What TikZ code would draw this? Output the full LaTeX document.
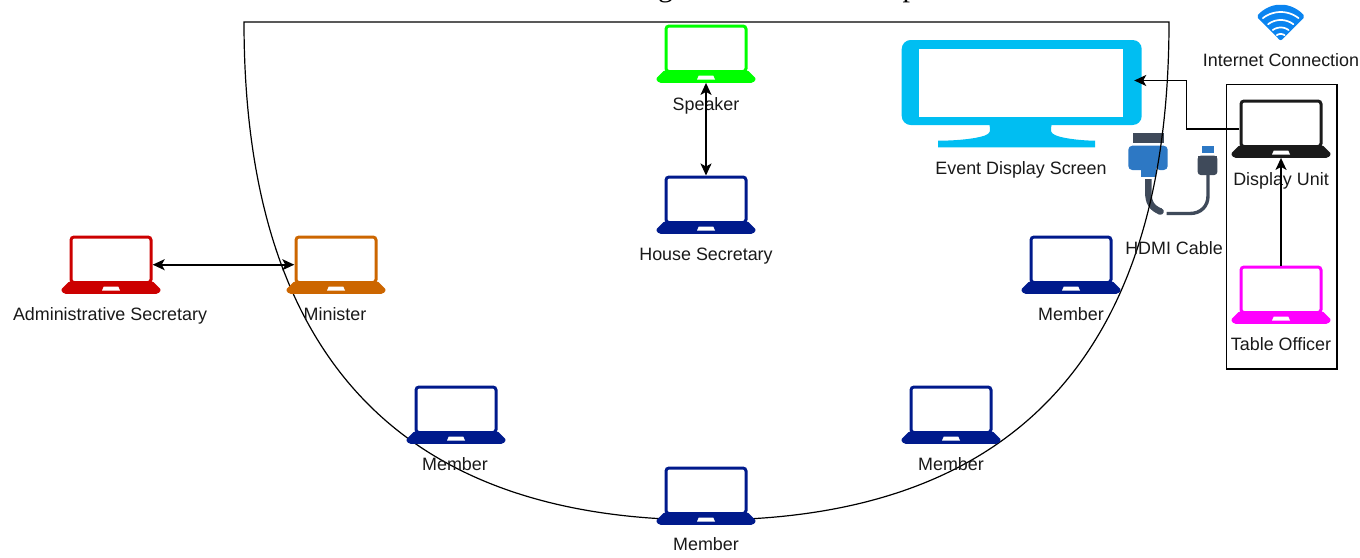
\documentclass[tikz,border=0pt]{standalone}
\usepackage{fontspec}
\setmainfont{Liberation Sans}
\newfontfamily\titlefont{Liberation Serif}
\usetikzlibrary{arrows.meta,calc}
\definecolor{navy}{HTML}{001A8C}
\definecolor{lapgreen}{HTML}{00FF00}
\definecolor{lapred}{HTML}{CC0000}
\definecolor{laporange}{HTML}{CC6600}
\definecolor{lapmag}{HTML}{FF00FF}
\definecolor{lapblack}{HTML}{1A1A1A}
\definecolor{monblue}{HTML}{00BEF2}
\definecolor{hdmiblue}{HTML}{2D78C4}
\definecolor{hdmidark}{HTML}{3F4A5A}
\definecolor{wifiblue}{HTML}{0A84F0}
\tikzset{
  lap/.style={minimum width=83pt,minimum height=58pt,inner sep=0pt,anchor=north},
  lbl/.style={font=\fontsize{17.9}{20}\selectfont,inner sep=0pt,text=black!90,anchor=base,yshift=-6pt},
  conn/.style={line width=1.6pt,draw=black,{Stealth[length=12pt,width=11pt,inset=3pt]}-{Stealth[length=12pt,width=11pt,inset=3pt]}},
  connto/.style={line width=1.6pt,draw=black,-{Stealth[length=12pt,width=11pt,inset=3pt]}}
}
\newcommand{\laptop}[4]{%
  \node[lap] (#1) at (#2,#3) {};
  \begin{scope}[shift={(#2,#3)}]
    \draw[#4,line width=3pt,rounded corners=3pt] (-40,1.5) rectangle (40,47);
    \fill[#4,rounded corners=1.5pt] (-41.5,45.7) -- (41.5,45.7) -- (50.3,54.4) -- (47,58.3) -- (-47,58.3) -- (-50.3,54.4) -- cycle;
    \fill[white] (-7.2,51) -- (7.2,51) -- (9,55) -- (-9,55) -- cycle;
  \end{scope}}
\begin{document}
\begin{tikzpicture}[x=1pt,y=-1pt]
\useasboundingbox (0,0) rectangle (1360,557);
\clip (0,0) rectangle (1360,557);
% cropped title
\node[anchor=base,inner sep=0pt,font=\fontsize{30}{32}\selectfont\titlefont] (titleg) at (665.5,-4) {g};
\node[anchor=base,inner sep=0pt,font=\fontsize{30}{32}\selectfont\titlefont] (titlep) at (910,-4) {p};
% HDMI icon
\fill[hdmidark] (1132.7,133.3) rectangle (1164.3,142.7);
\fill[hdmiblue,rounded corners=4pt] (1128.3,145.7) -- (1167.7,145.7) -- (1167.7,170) -- (1155.7,170) -- (1155.7,170) -- (1128.3,170) -- cycle;
\fill[hdmiblue] (1141,165) rectangle (1155.7,177);
\draw[hdmidark,line width=6.5pt] (1148.3,179) -- (1148.3,192) .. controls (1148.3,203) and (1152,208) .. (1160.5,211.5);
\draw[hdmidark,line width=6.5pt,line cap=round] (1160,211.3) -- (1160.5,211.5);
\draw[hdmidark,line width=3.4pt] (1166.5,213.5) -- (1190,213.5) .. controls (1201,213.5) and (1208,206) .. (1208,196) -- (1208,172);
\fill[hdmidark,rounded corners=3pt] (1197.7,155.7) -- (1217.3,155.7) -- (1217.3,175) -- (1197.7,175) -- cycle;
\fill[hdmidark] (1197.7,155.7) rectangle (1217.3,165);
\fill[hdmiblue] (1201.7,145.7) rectangle (1214,153);
% chamber outline
\draw[line width=1.2pt,line join=miter] (244,22) -- (1169,22) .. controls (1169,354) and (1014.5,520) .. (706.5,520) .. controls (398.5,520) and (244,354) .. (244,22) -- cycle;
% monitor
\node[minimum width=225pt,minimum height=82pt,inner sep=0pt] (monitor) at (1021.5,80.5) {};
\fill[monblue,rounded corners=9pt] (901.7,40) rectangle (1141.7,125);
\fill[monblue] (989.3,124) .. controls (990.5,131) and (991,133) .. (985,135.5) .. controls (975,139) and (955,140.7) .. (938,140.7) -- (938,147.3) -- (1095,147.3) -- (1095,140.7) .. controls (1085,140.7) and (1065,139) .. (1056,135.5) .. controls (1050,133) and (1050.5,131) .. (1051.7,124) -- cycle;
\fill[white] (919.3,49) rectangle (1123,116.7);
% laptops
\laptop{speaker}{706}{24.5}{lapgreen}
\laptop{housesec}{706}{175.5}{navy}
\laptop{adminsec}{111}{235.5}{lapred}
\laptop{minister}{336}{235.5}{laporange}
\laptop{memberr}{1071}{235.5}{navy}
\laptop{memberll}{456}{385.5}{navy}
\laptop{memberlr}{951}{385.5}{navy}
\laptop{memberb}{706}{466.5}{navy}
\laptop{display}{1281}{99.5}{lapblack}
\laptop{tableoff}{1281}{265.5}{lapmag}
% officer box
\node[draw=black,line width=1.2pt,minimum width=110.5pt,minimum height=284.5pt,inner sep=0pt] (officebox) at (1281.7,226.8) {};
% wifi
\fill[wifiblue,rounded corners=2pt] (1280.7,41) -- (1256.5,16.5) .. controls (1263,9) and (1272,4.8) .. (1280.7,4.8) .. controls (1289.4,4.8) and (1298.4,9) .. (1305,16.5) -- cycle;
\foreach \r/\a in {29/38,21/37,13.5/36,7/34}{
  \draw[white,line width=1.7pt,line cap=round] plot[smooth,domain=-\a:\a,samples=15] ({1280.7+\r*sin(\x)},{41-\r*cos(\x)});
}
% labels
\node[lbl] (lspeaker) at (706,104.5) {Speaker};
\node[lbl] (lhouse) at (706,254.5) {House Secretary};
\node[lbl] (ladmin) at (110,314.5) {Administrative Secretary};
\node[lbl] (lminister) at (335,314.5) {Minister};
\node[lbl] (lmemr) at (1071,314.5) {Member};
\node[lbl] (lmemll) at (455,464.5) {Member};
\node[lbl] (lmemlr) at (951,464.5) {Member};
\node[lbl] (lmemb) at (706,544.5) {Member};
\node[lbl] (levent) at (1021,168.5) {Event Display Screen};
\node[lbl] (lhdmi) at (1174,248.5) {HDMI Cable};
\node[lbl] (ldisplay) at (1281,179.5) {Display Unit};
\node[lbl] (ltable) at (1281,344.5) {Table Officer};
\node[lbl] (lnet) at (1281,60.5) {Internet Connection};
% connectors
\draw[conn] (speaker.south) -- (housesec.north);
\draw[conn] (adminsec.east) -- (minister.west);
\draw[connto] (display.west) -- ++(-53,0) |- (monitor.east);
\draw[connto] (tableoff.north) -- (display.south);
\end{tikzpicture}
\end{document}
